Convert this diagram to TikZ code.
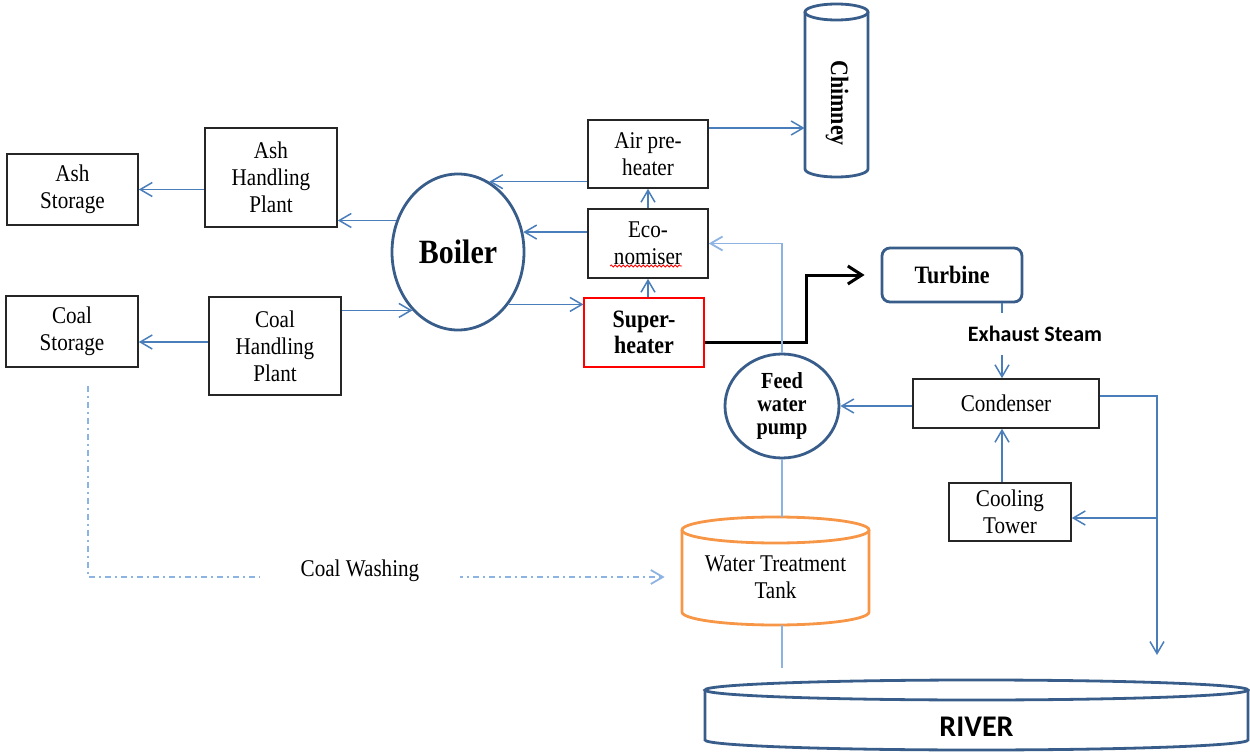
\documentclass[tikz,border=0pt]{standalone}
\usepackage{fontspec}
\setmainfont{Liberation Serif}[FakeStretch=0.88]
\newfontfamily\calibri{Carlito}
\usetikzlibrary{arrows.meta, shapes.geometric, decorations.pathmorphing}
\definecolor{flowblue}{HTML}{4A7EBB}
\definecolor{paleblue}{HTML}{8DB3E2}
\definecolor{shapeblue}{HTML}{385D8A}
\definecolor{tankorange}{HTML}{F79646}
\begin{document}
\begin{tikzpicture}[x=0.5pt, y=-0.5pt,
		box/.style={draw=black!85, line width=0.8pt, inner sep=0pt, align=center, font=\fontsize{12}{13.5}\selectfont},
		vessel/.style={draw=shapeblue, line width=1.4pt},
		flow/.style={flowblue, line width=0.75pt, -{Straight Barb[length=6pt, width=7pt]}},
		feed/.style={paleblue, line width=0.9pt},
		wash/.style={paleblue, line width=0.9pt, dash pattern=on 3pt off 2pt on 1pt off 2pt, -{Straight Barb[length=6pt, width=7pt]}}]
		\useasboundingbox (0,0) rectangle (1250,755);
		
		\node[box, minimum width=65.5pt, minimum height=35.5pt] (ashst) at (72.5,189.5) {Ash\\Storage};
		\node[box, minimum width=66pt, minimum height=49.5pt] (ahp) at (271,177.5) {Ash\\Handling\\Plant};
		\node[box, minimum width=66pt, minimum height=35.5pt] (coalst) at (72,331.5) {Coal\\Storage};
		\node[box, minimum width=66pt, minimum height=49pt] (chp) at (275,346) {Coal\\Handling\\Plant};
		\node[vessel, ellipse, minimum width=66pt, minimum height=78pt, inner sep=0pt, font=\bfseries\fontsize{17}{20}\selectfont] (boiler) at (458,252) {Boiler};
		\node[box, minimum width=60pt, minimum height=34pt] (air) at (648,154) {Air pre-\\heater};
		\node[box, minimum width=60pt, minimum height=34.5pt] (eco) at (648,243.5) {Eco-\\nomiser};
		\node[box, draw=red, line width=0.6pt, minimum width=60pt, minimum height=34.5pt, font=\bfseries\fontsize{12.5}{13}\selectfont] (sup) at (644,332.5) {Super-\\heater};
		\node[vessel, rounded corners=4pt, minimum width=70pt, minimum height=27pt, inner sep=0pt, font=\bfseries\fontsize{12.5}{14}\selectfont] (turb) at (952,275) {Turbine};
		\node[box, minimum width=93pt, minimum height=24.5pt] (cond) at (1006,403.5) {Condenser};
		\node[box, minimum width=61pt, minimum height=29pt] (cool) at (1010,512) {Cooling\\Tower};
		\node[vessel, ellipse, minimum width=57pt, minimum height=52pt, inner sep=0pt, align=center, font=\bfseries\fontsize{11.5}{11.5}\selectfont] (pump) at (782,406) {Feed\\water\\pump};
		
		% spell-check squiggle
		\draw[red, line width=0.4pt, decorate, decoration={snake, amplitude=0.5pt, segment length=2pt}] (610,266) -- (682,266);
		
		% chimney
		\draw[vessel] (805,12) -- (805,169) arc[start angle=180, end angle=0, x radius=31.5, y radius=8] -- (868,12);
		\draw[vessel] (836.5,12) ellipse [x radius=31.5, y radius=8];
		\node[minimum width=31.5pt, minimum height=87pt, inner sep=0pt] (chim) at (836.5,90) {};
		\node[rotate=-90, font=\bfseries\fontsize{12.5}{14}\selectfont] (chimlbl) at (837,103) {Chimney};
		
		% water treatment tank
		\draw[tankorange, line width=1.4pt] (682,530) -- (682,612) arc[start angle=180, end angle=0, x radius=93.5, y radius=13] -- (869,530);
		\draw[tankorange, line width=1.4pt] (775.5,530) ellipse [x radius=93.5, y radius=13];
		\node[align=center, minimum width=93.5pt, inner sep=0pt, font=\fontsize{12}{13.5}\selectfont] (tank) at (775.5,577) {Water Treatment\\Tank};
		
		% river
		\draw[vessel] (705,690) -- (705,740) arc[start angle=180, end angle=0, x radius=271.5, y radius=10] -- (1248,690);
		\draw[vessel] (976.5,690) ellipse [x radius=271.5, y radius=10];
		\node[font=\calibri\bfseries\fontsize{15}{18}\selectfont] (river) at (976.5,727) {RIVER};
		
		\coordinate (tanktop) at (782,517);
		\coordinate (tankbot) at (782,625);
		\coordinate (rivertop) at (782,668);
		\coordinate (steamx) at (1002,0);
		\coordinate (rt) at (1157,396);
		\coordinate (drain) at (1157,655);
		
		\draw[flow] (ahp.west |- ashst.east) -- (ashst.east);
		\draw[flow] (boiler.153) -- (boiler.153 -| ahp.east);
		\draw[flow] (boiler.232 -| chp.east) -- (boiler.232);
		\draw[flow] (chp.west |- 0,342) -- (coalst.east |- 0,342);
		\draw[flow] (air.west |- boiler.66) -- (boiler.66);
		\draw[flow] (eco.west |- boiler.17) -- (boiler.17);
		\draw[flow] (boiler.-46) -- (boiler.-46 -| sup.west);
		\draw[flow] (eco.south |- sup.north) -- (eco.south);
		\draw[flow] (eco.north) -- (air.south);
		\draw[flow] (air.east |- 0,128) -- (chim.west |- 0,128);
		
		\draw[black, line width=1.5pt, -{Straight Barb[length=7pt, width=9pt]}] (sup.east |- 0,342) -| ([xshift=-37pt]turb.west) -- ([xshift=-8pt]turb.west);
		
		\draw[feed, -{Straight Barb[length=6pt, width=7pt]}] (pump.north) |- (eco.east);
		\draw[feed] (pump.south) -- (tanktop);
		\draw[feed] (tankbot) -- (rivertop);
		
		\draw[flow] (steamx |- turb.south) -- (steamx |- cond.north);
		\node[fill=white, inner sep=0pt, minimum height=21pt, font=\calibri\bfseries\fontsize{11}{13}\selectfont] (exh) at (1035,334) {Exhaust Steam};
		\draw[flow] (steamx |- cool.north) -- (steamx |- cond.south);
		\draw[flow] (cond.west |- pump.east) -- (pump.east);
		\draw[flow] (cond.east |- rt) -- (rt) -- (drain);
		\draw[flow] (rt |- 0,518) -- (cool.east |- 0,518);
		
		\draw[wash] ([shift={(8pt,-9pt)}]coalst.south) |- ([xshift=-8.5pt]tank.west);
		\node[fill=white, minimum width=100pt, inner sep=0pt, minimum height=12pt, font=\fontsize{12}{13.5}\selectfont] (washlbl) at (360,571) {Coal Washing};
	\end{tikzpicture}
\end{document}
